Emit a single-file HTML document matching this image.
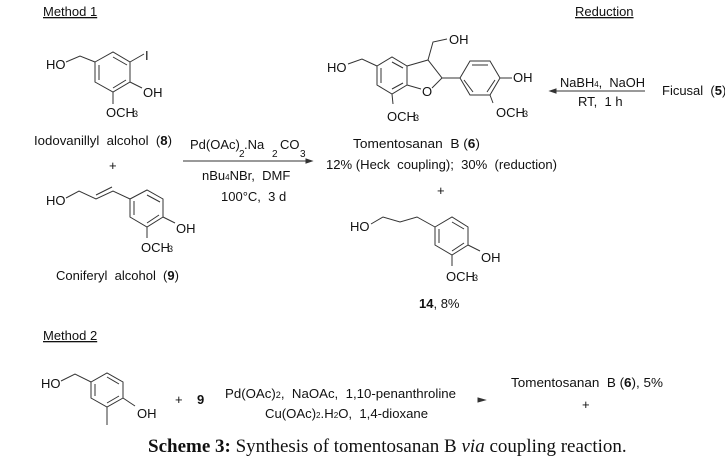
<!DOCTYPE html>
<html><head><meta charset="utf-8"><style>
html,body{margin:0;padding:0;background:#fff;}
svg{display:block;}
text{font-family:"Liberation Sans",Arial,sans-serif;font-size:13px;fill:#111;}
.u{text-decoration:underline;}
.cap{font-family:"Liberation Serif","Times New Roman",serif;font-size:19px;}
line,polyline,polygon{stroke:#333;stroke-width:1;fill:none;}
</style></head><body>
<svg width="725" height="461" viewBox="0 0 725 461" xmlns="http://www.w3.org/2000/svg">
<!-- Method 1 -->
<text x="43" y="16" class="u">Method 1</text>
<!-- Compound 8 -->
<text x="46" y="69">HO</text>
<polyline points="66,62 80,56 95,62"/>
<polygon points="95,62 113,52 130,62 130,82 113,92 95,82"/>
<line x1="99" y1="65" x2="99" y2="80"/><line x1="113" y1="57" x2="127" y2="65"/><line x1="113" y1="88" x2="126" y2="80"/>
<line x1="130" y1="62" x2="144" y2="54"/><text x="145" y="60">I</text>
<line x1="130" y1="82" x2="142" y2="88"/><text x="143" y="97">OH</text>
<line x1="113" y1="92" x2="113" y2="104"/><text x="106" y="117">OCH</text><text x="133" y="117" style="font-size:9px">3</text>
<text x="34" y="145" textLength="138" lengthAdjust="spacingAndGlyphs">Iodovanillyl&#160; alcohol&#160; (<tspan font-weight="bold">8</tspan>)</text>
<text x="109" y="170">+</text>
<!-- Compound 9 -->
<text x="46" y="205">HO</text>
<polyline points="66,198 79,191 96,199 113,191 130,199"/>
<line x1="96" y1="195" x2="112" y2="187"/>
<polygon points="130,199 147,190 163,199 163,217 147,227 130,217"/>
<line x1="134" y1="201" x2="134" y2="215"/><line x1="147" y1="195" x2="160" y2="202"/><line x1="147" y1="223" x2="159" y2="215"/>
<line x1="163" y1="217" x2="175" y2="223"/><text x="176" y="233">OH</text>
<line x1="147" y1="227" x2="147" y2="238"/><text x="141" y="252">OCH</text><text x="168" y="252" style="font-size:9px">3</text>
<text x="56" y="280" textLength="123" lengthAdjust="spacingAndGlyphs">Coniferyl&#160; alcohol&#160; (<tspan font-weight="bold">9</tspan>)</text>
<!-- arrow 1 -->
<text x="190" y="149">Pd(OAc)</text><text x="239" y="157" style="font-size:10px">2</text><text x="244" y="149">.Na</text><text x="272" y="157" style="font-size:10px">2</text><text x="280" y="149">CO</text><text x="300" y="157" style="font-size:10px">3</text>
<line x1="183" y1="161" x2="306" y2="161"/><polygon points="306,159 312,161 306,163" style="fill:#333"/>
<text x="202" y="180">nBu<tspan style="font-size:8px">4</tspan>NBr,&#160; DMF</text>
<text x="221" y="201">100°C,&#160; 3 d</text>
<!-- Reduction -->
<text x="575" y="16" class="u">Reduction</text>
<!-- Tomentosanan B -->
<text x="327" y="72">HO</text>
<polyline points="348,64 362,59 377,66"/>
<polygon points="377,66 392,57 407,66 407,85 392,94 377,85"/>
<line x1="381" y1="68" x2="381" y2="83"/><line x1="392" y1="62" x2="403" y2="68"/><line x1="392" y1="89" x2="403" y2="83"/>
<polyline points="407,66 428,60 442,78 432,88"/><line x1="407" y1="85" x2="421" y2="89"/>
<text x="422" y="96">O</text>
<polyline points="428,60 433,42 447,39"/><text x="449" y="44">OH</text>
<line x1="442" y1="78" x2="460" y2="78"/>
<polygon points="460,78 470,61 490,61 500,78 490,95 470,95"/>
<line x1="472" y1="65" x2="488" y2="65"/><line x1="464" y1="80" x2="473" y2="92"/><line x1="495" y1="80" x2="487" y2="92"/>
<line x1="500" y1="78" x2="512" y2="78"/><text x="513" y="82">OH</text>
<line x1="490" y1="95" x2="493" y2="103"/><text x="496" y="117">OCH</text><text x="523" y="117" style="font-size:9px">3</text>
<line x1="392" y1="94" x2="393" y2="104"/><text x="387" y="121">OCH</text><text x="414" y="121" style="font-size:9px">3</text>
<text x="353" y="148" textLength="127" lengthAdjust="spacingAndGlyphs">Tomentosanan&#160; B (<tspan font-weight="bold">6</tspan>)</text>
<text x="326" y="169" textLength="231" lengthAdjust="spacingAndGlyphs">12% (Heck&#160; coupling);&#160; 30%&#160; (reduction)</text>
<text x="437" y="195">+</text>
<!-- reduction arrow -->
<text x="560" y="87" textLength="85" lengthAdjust="spacingAndGlyphs">NaBH<tspan style="font-size:8px">4</tspan>,&#160; NaOH</text>
<line x1="556" y1="91" x2="645" y2="91"/><polygon points="556,89 550,91 556,93" style="fill:#333"/>
<text x="578" y="106">RT,&#160; 1 h</text>
<text x="662" y="95">Ficusal&#160; (<tspan font-weight="bold">5</tspan>)</text>
<!-- Compound 14 -->
<text x="350" y="231">HO</text>
<polyline points="371,224 383,217 400,222 417,217 435,227"/>
<polygon points="435,227 452,217 468,227 468,245 452,255 435,245"/>
<line x1="439" y1="229" x2="439" y2="243"/><line x1="452" y1="222" x2="464" y2="229"/><line x1="452" y1="251" x2="464" y2="243"/>
<line x1="468" y1="245" x2="480" y2="251"/><text x="481" y="262">OH</text>
<line x1="452" y1="255" x2="452" y2="266"/><text x="446" y="281">OCH</text><text x="473" y="281" style="font-size:9px">3</text>
<text x="419" y="308"><tspan font-weight="bold">14</tspan>, 8%</text>
<!-- Method 2 -->
<text x="43" y="340" class="u">Method 2</text>
<text x="41" y="388">HO</text>
<polyline points="61,381 75,374 91,382"/>
<polygon points="91,382 107,373 123,382 123,398 107,407 91,398"/>
<line x1="95" y1="384" x2="95" y2="396"/><line x1="107" y1="377" x2="119" y2="384"/><line x1="107" y1="403" x2="119" y2="396"/>
<line x1="123" y1="398" x2="135" y2="406"/><text x="137" y="418">OH</text>
<line x1="107" y1="407" x2="107" y2="425"/>
<text x="175" y="404">+</text>
<text x="197" y="404" font-weight="bold">9</text>
<text x="225" y="398" textLength="231" lengthAdjust="spacingAndGlyphs">Pd(OAc)<tspan style="font-size:9px">2</tspan>,&#160; NaOAc,&#160; 1,10-penanthroline</text>
<text x="265" y="418" textLength="163" lengthAdjust="spacingAndGlyphs">Cu(OAc)<tspan style="font-size:8px">2</tspan>.H<tspan style="font-size:8px">2</tspan>O,&#160; 1,4-dioxane</text>
<polygon points="478,398 485,400 478,402" style="fill:#333"/>
<text x="511" y="387" textLength="152" lengthAdjust="spacingAndGlyphs">Tomentosanan&#160; B (<tspan font-weight="bold">6</tspan>), 5%</text>
<text x="582" y="409">+</text>
<text x="148" y="452" class="cap"><tspan font-weight="bold">Scheme 3:</tspan> Synthesis of tomentosanan B <tspan font-style="italic">via</tspan> coupling reaction.</text>
</svg>
</body></html>
